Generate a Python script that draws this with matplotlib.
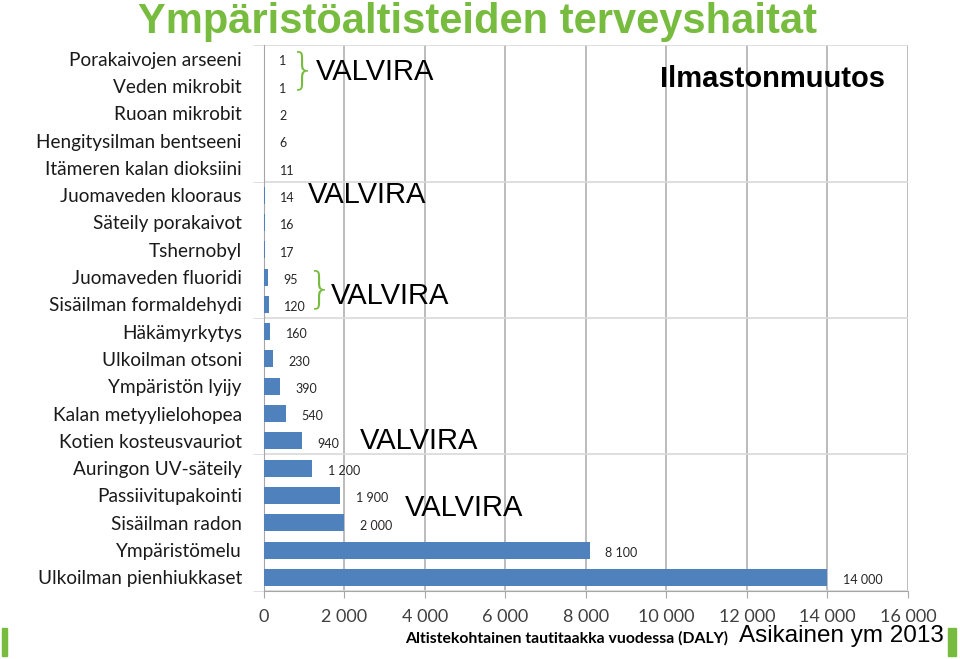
import matplotlib.pyplot as plt
import numpy as np

categories = ["Porakaivojen arseeni", "Veden mikrobit", "Ruoan mikrobit",
              "Hengitysilman bentseeni", "Itämeren kalan dioksiini",
              "Juomaveden klooraus", "Säteily porakaivot", "Tshernobyl",
              "Juomaveden fluoridi", "Sisäilman formaldehydi", "Häkämyrkytys",
              "Ulkoilman otsoni", "Ympäristön lyijy", "Kalan metyylielohopea",
              "Kotien kosteusvauriot", "Auringon UV-säteily", "Passiivitupakointi",
              "Sisäilman radon", "Ympäristömelu", "Ulkoilman pienhiukkaset"]
values = [1, 1, 2, 6, 11, 14, 16, 17, 95, 120, 160, 230, 390, 540, 940,
          1200, 1900, 2000, 8100, 14000]
xticks = [0, 2000, 4000, 6000, 8000, 10000, 12000, 14000, 16000]

green = '#77bc3f'
bar_blue = '#4f81bd'

def fmt(v):
    return f"{v:,}".replace(",", " ")

fig = plt.figure(figsize=(9.6, 6.59), dpi=100)
ax = fig.add_axes([0.275, 0.1032, 0.6708, 0.8285])

y = np.arange(len(categories))
ax.barh(y, values, height=0.62, color=bar_blue, zorder=3)
ax.set_ylim(len(categories) - 0.5, -0.5)
ax.set_xlim(0, 16000)

for yi, v in zip(y, values):
    ax.annotate(fmt(v), (v, yi), xytext=(11, -2), textcoords='offset points',
                va='center', ha='left', fontsize=9, family='Lato', color='#262626')

ax.set_yticks(y)
ax.set_yticklabels(categories, family='Lato', fontsize=13.7, color='#1a1a1a')
ax.tick_params(axis='y', which='major', length=0, pad=16)
ax.set_yticks(np.arange(-0.5, len(categories), 5), minor=True)
ax.tick_params(axis='y', which='minor', length=8, color='#d9d9d9')
ax.grid(axis='y', which='minor', color='#d9d9d9', lw=1.2, zorder=0)

ax.set_xticks(xticks)
ax.set_xticklabels([fmt(t) for t in xticks], family='Lato', fontsize=13, color='#404040')
ax.tick_params(axis='x', length=5, color='#a6a6a6', pad=8)
ax.grid(axis='x', color='#b0b0b0', lw=1.2, zorder=0)

for s in ['top', 'right']:
    ax.spines[s].set_visible(False)
ax.spines['left'].set_color('#a6a6a6')
ax.spines['bottom'].set_color('#a6a6a6')

ax.set_xlabel("Altistekohtainen tautitaakka vuodessa (DALY)", family='Lato',
              fontweight='bold', fontsize=11.3)
ax.xaxis.set_label_coords(0.47, -0.073)

fig.text(0.497, 0.997, "Ympäristöaltisteiden terveyshaitat", ha='center', va='top',
         family='Liberation Sans', fontweight='bold', fontsize=30, color=green)

vkw = dict(family='Liberation Sans', fontsize=21, color='black', va='center', ha='left')
ax.text(1300, 0.5, "VALVIRA", **vkw)
ax.text(1100, 5.0, "VALVIRA", **vkw)
ax.text(1650, 8.7, "VALVIRA", **vkw)
ax.text(2380, 14.0, "VALVIRA", **vkw)
ax.text(3500, 16.45, "VALVIRA", **vkw)
ax.text(9850, 0.75, "Ilmastonmuutos", family='Liberation Sans', fontweight='bold',
        fontsize=21, va='center', ha='left')

bkw = dict(family='DejaVu Sans', fontsize=30, color=green, va='center', ha='left',
           fontweight='light')
ax.text(650, 0.45, "}", **bkw)
ax.text(1080, 8.45, "}", **bkw)

fig.text(0.983, 0.018, "Asikainen ym 2013", ha='right', va='bottom',
         family='Liberation Sans', fontsize=17.5)
fig.patches.append(plt.Rectangle((0.002, 0.004), 0.005, 0.043, color=green,
                                 transform=fig.transFigure))
fig.patches.append(plt.Rectangle((0.988, 0.004), 0.008, 0.043, color=green,
                                 transform=fig.transFigure))

fig.savefig('out.png', dpi=100)
